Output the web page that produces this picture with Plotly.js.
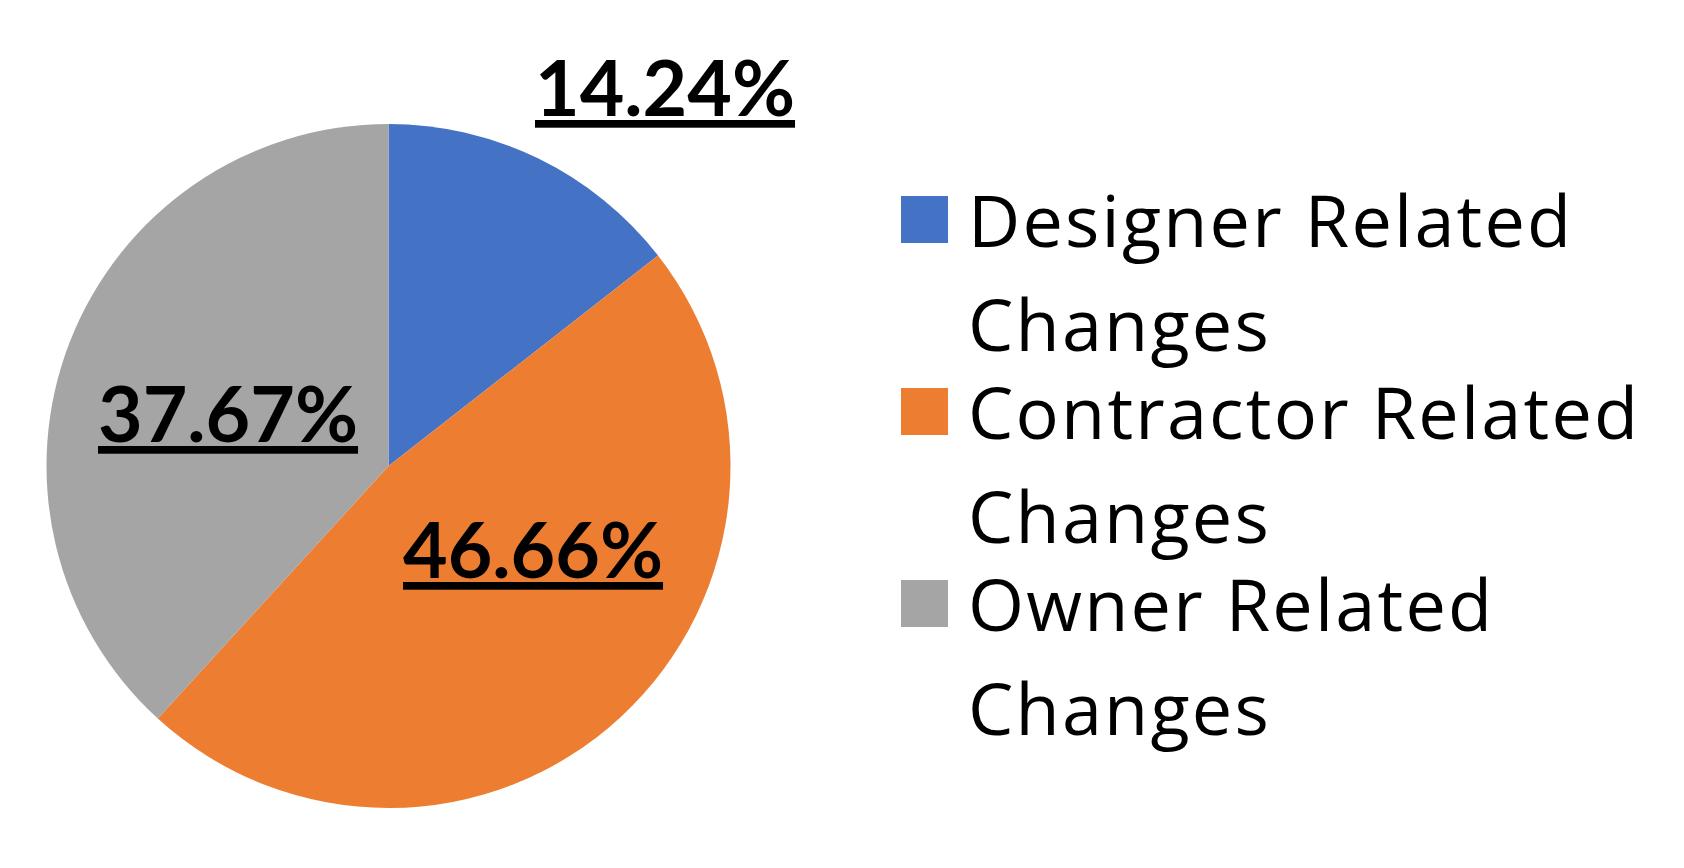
<!DOCTYPE html>
<html><head><meta charset="utf-8">
<script src="https://cdn.plot.ly/plotly-3.0.1.min.js"></script>
<style>
html,body{margin:0;padding:0;background:#fff;}
#chart{width:1684px;height:868px;}
svg text, svg tspan { text-underline-offset: 11px; text-decoration-thickness: 7px; }
</style>
</head><body><div id="chart"></div>
<script>
const categories = ['Designer Related Changes', 'Contractor Related Changes', 'Owner Related Changes'];
const legendLine1 = ['Designer Related', 'Contractor Related', 'Owner Related'];
const legendLine2 = ['Changes', 'Changes', 'Changes'];
const values = [14.24, 46.66, 37.67];
const colors = ['#4472C4', '#ED7D31', '#A5A5A5'];

const W = 1684, H = 868;
const px = x => x / W;
const py = y => 1 - y / H;

const trace = {
  type: 'pie',
  labels: categories,
  values: values,
  sort: false,
  direction: 'clockwise',
  rotation: 0,
  marker: {colors: colors, line: {width: 0}},
  textinfo: 'none',
  domain: {x: [px(45), px(732)], y: [py(808), py(124)]},
  showlegend: false,
  hoverinfo: 'label+percent'
};

// data-label placement (pixel centres of the value labels), styling only
const labelPos = [[664.5, 86], [533, 548], [227.5, 411.5]];
const labelFont = {family: 'Lato', size: 77, color: '#000', weight: 'bold'};
const legendFont = {family: 'Open Sans', size: 72, color: '#000'};

const shapes = [];
const annotations = [];
values.forEach((v, i) => {
  annotations.push({xref: 'paper', yref: 'paper', x: px(labelPos[i][0]), y: py(labelPos[i][1]),
    xanchor: 'center', yanchor: 'middle', showarrow: false,
    text: '<u>' + v.toFixed(2) + '%</u>', font: labelFont});
});

const itemTop = 196, itemStep = 192, lineStep = 104;
for (let i = 0; i < categories.length; i++) {
  const top = itemTop + i * itemStep;
  shapes.push({type: 'rect', xref: 'paper', yref: 'paper',
    x0: px(901), x1: px(948), y0: py(top + 47), y1: py(top),
    fillcolor: colors[i], line: {width: 0}});
  const base = top + 49;
  [legendLine1[i], legendLine2[i]].forEach((t, k) => {
    annotations.push({xref: 'paper', yref: 'paper', x: px(966), y: py(base + k * lineStep - 26),
      xanchor: 'left', yanchor: 'middle', showarrow: false, font: legendFont,
      text: '<span style="letter-spacing:2.2px">' + t + '</span>'});
  });
}

const layout = {
  width: W, height: H,
  margin: {l: 0, r: 0, t: 0, b: 0},
  paper_bgcolor: '#fff', plot_bgcolor: '#fff',
  showlegend: false,
  shapes: shapes,
  annotations: annotations
};
Plotly.newPlot('chart', [trace], layout, {displayModeBar: false, staticPlot: true});
</script>
</body></html>
